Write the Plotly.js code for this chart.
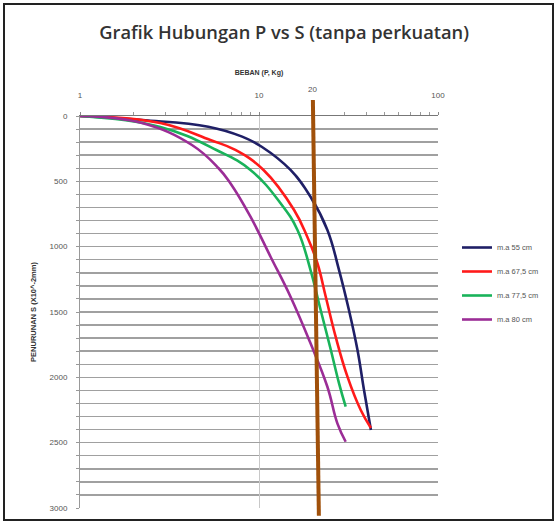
<!DOCTYPE html>
<html>
<head>
<meta charset="utf-8">
<script src="https://cdn.plot.ly/plotly-3.0.1.min.js"></script>
<style>
html,body{margin:0;padding:0;background:#fff;}
#wrap{position:relative;width:555px;height:521px;}
#chart{position:absolute;left:0;top:0;width:555px;height:521px;}
#frame{position:absolute;left:3px;top:3px;width:547px;height:514px;border:2px solid #222;pointer-events:none;}
</style>
</head>
<body>
<div id="wrap"><div id="chart"></div><div id="frame"></div></div>
<script>
// Beban P (Kg) and penurunan S (x10^-2 mm) for each series
const names = ["m.a 55 cm", "m.a 67,5 cm", "m.a 77,5 cm", "m.a 80 cm"];
const colors = ["#1F1F66", "#FF1A1A", "#19B35A", "#9B2D96"];

const p55 = [1.0, 2.22, 5.21, 8.05, 10.4, 15.0, 19.4, 24.1, 28.0, 31.8, 35.5, 38.6, 42.2];
const s55 = [0, 31, 82, 158, 237, 413, 618, 872, 1179, 1485, 1791, 2097, 2403];

const p675 = [1.0, 2.81, 5.35, 7.38, 10.6, 15.7, 18.6, 21.2, 23.6, 26.8, 31.2, 37.0, 42.2];
const s675 = [0, 54, 184, 260, 413, 719, 924, 1127, 1383, 1689, 1995, 2250, 2388];

const p775 = [1.0, 2.81, 5.78, 8.96, 13.2, 16.4, 19.4, 22.1, 25.2, 28.0, 30.5];
const s775 = [0, 84, 260, 413, 668, 872, 1179, 1485, 1791, 2046, 2225];

const p80 = [1.0, 2.22, 4.22, 5.93, 6.92, 8.96, 11.6, 15.0, 19.4, 24.1, 27.4, 30.5];
const s80 = [0, 54, 222, 398, 515, 771, 1077, 1383, 1740, 2072, 2352, 2493];

const xTicks = [1, 10, 100];
const xMinorTicks = [2, 3, 4, 5, 6, 7, 8, 9, 20, 30, 40, 50, 60, 70, 80, 90];
const yTicks = [0, 500, 1000, 1500, 2000, 2500, 3000];
const markLoad = 20;

const px = [p55, p675, p775, p80];
const sy = [s55, s675, s775, s80];

const traces = names.map((n, i) => ({
  type: "scatter", mode: "lines", name: n,
  x: px[i], y: sy[i],
  line: {color: colors[i], width: 2.6, shape: "spline", smoothing: 1.2},
  legendgroup: "g" + i
}));

const tickFont = {family: "Liberation Sans, Arial, sans-serif", size: 8, color: "#555"};

const layout = {
  width: 555, height: 521,
  margin: {l: 80, r: 117, t: 116, b: 13, autoexpand: false},
  paper_bgcolor: "#fff", plot_bgcolor: "#fff",
  title: {
    text: "Grafik Hubungan P vs S (tanpa perkuatan)",
    font: {family: "Open Sans, sans-serif", size: 18.3, color: "#333", weight: 600},
    xref: "container", yref: "container", x: 0.512, xanchor: "center", y: 0.938, yanchor: "middle"
  },
  xaxis: {
    type: "log", side: "top", range: [0, 2],
    tickvals: xTicks, ticktext: xTicks.map(String),
    tickfont: tickFont, ticks: "outside", ticklen: 3, tickcolor: "#888",
    ticklabelstandoff: 11,
    showgrid: true, gridcolor: "#c8c8c8", gridwidth: 1,
    showline: true, linecolor: "#777", linewidth: 1,
    zeroline: false,
    minor: {tickmode: "array", tickvals: xMinorTicks, ticks: "outside", ticklen: 3, tickcolor: "#999", showgrid: false},
    title: {text: "BEBAN (P, Kg)", font: {family: "Liberation Sans, Arial, sans-serif", size: 7, color: "#333", weight: "bold"}, standoff: 14}
  },
  yaxis: {
    range: [3000, 0], autorange: false,
    tickvals: yTicks, ticktext: yTicks.map(String),
    tickfont: tickFont, ticks: "outside", ticklen: 3, tickcolor: "#999",
    ticklabelstandoff: 7,
    showgrid: true, gridcolor: "#a0a0a0", gridwidth: 1.5,
    showline: true, linecolor: "#999", linewidth: 1,
    zeroline: false,
    minor: {dtick: 100, showgrid: true, gridcolor: "#a0a0a0", gridwidth: 1.5, ticks: "outside", ticklen: 3, tickcolor: "#999"},
    title: {text: "PENURUNAN S (X10^-2mm)", font: {family: "Liberation Sans, Arial, sans-serif", size: 7.5, color: "#333", weight: "bold"}, standoff: 11}
  },
  showlegend: true,
  legend: {
    x: 1.053, xanchor: "left", xref: "paper", y: 0.5727, yanchor: "middle",
    font: {family: "Liberation Sans, Arial, sans-serif", size: 7.5, color: "#555"},
    traceorder: "grouped", tracegroupgap: 5, itemwidth: 30,
    bgcolor: "rgba(0,0,0,0)"
  },
  shapes: [{
    type: "line", xref: "x", yref: "paper",
    x0: markLoad, x1: markLoad * 1.08, y0: 1.041, y1: -0.02,
    line: {color: "#A0500A", width: 4}, layer: "above"
  }],
  annotations: [{
    text: String(markLoad), xref: "x", yref: "paper",
    x: Math.log10(markLoad), y: 1.052, yanchor: "bottom", showarrow: false,
    font: tickFont
  }]
};

Plotly.newPlot("chart", traces, layout, {displayModeBar: false, staticPlot: true});
</script>
</body>
</html>
